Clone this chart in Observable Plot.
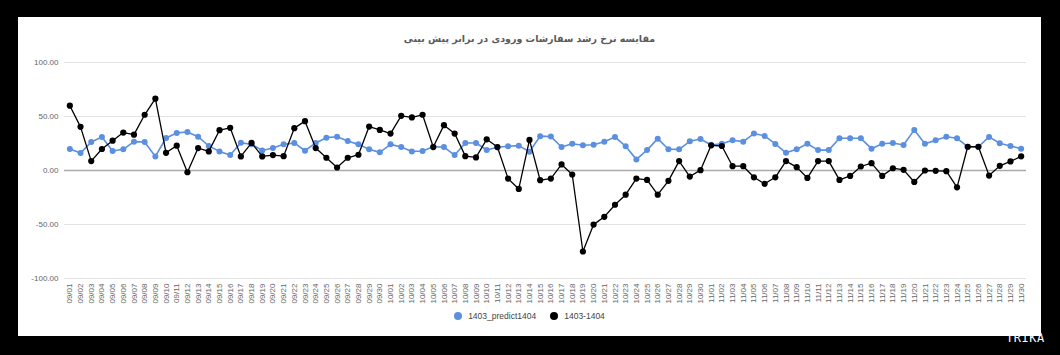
<!DOCTYPE html>
<html>
<head>
<meta charset="utf-8">
<script src="https://cdn.jsdelivr.net/npm/d3@7"></script>
<script src="https://cdn.jsdelivr.net/npm/@observablehq/plot@0.6"></script>
<style>
  html, body { margin: 0; padding: 0; background: #000; }
  #page { position: relative; width: 1060px; height: 355px; background: #000; overflow: hidden; }
  #panel { position: absolute; left: 18px; top: 17px; width: 1023px; height: 319px; background: #fff; }
  #title { position: absolute; left: 18px; width: 1023px; top: 33px; text-align: center;
           font-family: "DejaVu Sans", sans-serif; font-weight: bold; font-size: 9.5px; color: #5a5a5a; direction: rtl; }
  #chart { position: absolute; left: 18px; top: 50px; }
  #legend { position: absolute; left: 18px; width: 1023px; top: 311px; display: flex; justify-content: center; gap: 14px;
            font-family: "Liberation Sans", Arial, sans-serif; font-size: 8.5px; color: #444; }
  .item { display: flex; align-items: center; gap: 6px; }
  .sw { width: 8px; height: 8px; border-radius: 50%; display: inline-block; }
  #wm { position: absolute; left: 1006px; top: 331px; font-family: "DejaVu Sans Mono", monospace; font-size: 12px; color: #fff; letter-spacing: 0.5px; }
</style>
</head>
<body>
<div id="page">
  <div id="panel"></div>
  <div id="title">مقایسه نرخ رشد سفارشات ورودی در برابر پیش بینی</div>
  <div id="chart"></div>
  <div id="legend"></div>
  <div id="wm">TRIKA</div>
</div>
<script>
const dates = [
  "09/01","09/02","09/03","09/04","09/05","09/06","09/07","09/08","09/09","09/10",
  "09/11","09/12","09/13","09/14","09/15","09/16","09/17","09/18","09/19","09/20",
  "09/21","09/22","09/23","09/24","09/25","09/26","09/27","09/28","09/29","09/30",
  "10/01","10/02","10/03","10/04","10/05","10/06","10/07","10/08","10/09","10/10",
  "10/11","10/12","10/13","10/14","10/15","10/16","10/17","10/18","10/19","10/20",
  "10/21","10/22","10/23","10/24","10/25","10/26","10/27","10/28","10/29","10/30",
  "11/01","11/02","11/03","11/04","11/05","11/06","11/07","11/08","11/09","11/10",
  "11/11","11/12","11/13","11/14","11/15","11/16","11/17","11/18","11/19","11/20",
  "11/21","11/22","11/23","11/24","11/25","11/26","11/27","11/28","11/29","11/30"
];

const predict = [
  19.9, 16.1, 26.4, 31.1, 18.0, 19.6, 26.7, 26.4, 13.0, 30.1,
  34.8, 35.7, 31.3, 22.7, 17.7, 14.3, 25.7, 24.2, 18.6, 20.8,
  24.2, 25.5, 18.3, 25.5, 30.4, 31.3, 27.3, 24.2, 19.6, 16.8,
  24.2, 21.7, 17.7, 18.0, 21.9, 21.7, 14.3, 25.5, 25.5, 19.0,
  21.5, 22.4, 23.0, 17.4, 31.8, 31.4, 21.8, 24.8, 23.4, 23.9,
  26.7, 31.1, 22.4, 10.3, 18.9, 29.5, 19.7, 19.6, 27.0, 29.2,
  23.6, 24.8, 28.0, 26.7, 34.2, 32.0, 24.6, 16.4, 19.6, 24.8,
  18.9, 18.9, 29.8, 29.8, 29.8, 20.2, 24.8, 25.5, 23.6, 37.6,
  24.8, 27.9, 31.3, 29.8, 22.0, 22.0, 31.1, 25.2, 22.7, 20.2
];

const actual = [
  60.0, 40.4, 8.7, 19.9, 27.6, 35.1, 33.2, 51.6, 66.5, 16.4,
  23.0, -1.6, 20.8, 17.7, 37.3, 39.5, 13.0, 25.5, 13.0, 14.3,
  13.3, 39.2, 45.7, 20.8, 11.8, 2.8, 11.8, 14.6, 40.7, 37.6,
  34.2, 50.6, 49.1, 51.6, 21.7, 42.0, 34.2, 13.3, 12.1, 28.9,
  21.7, -7.5, -17.1, 28.3, -9.0, -7.5, 5.6, -3.7, -75.0, -50.1,
  -42.9, -31.7, -22.4, -7.5, -8.7, -22.4, -9.6, 8.7, -5.6, 0.3,
  23.3, 22.7, 4.0, 4.0, -6.3, -12.3, -6.3, 8.7, 3.1, -6.9,
  8.7, 8.7, -8.7, -5.0, 3.7, 6.8, -5.0, 2.1, 0.6, -10.6,
  0.0, -0.3, -0.6, -15.6, 22.0, 22.0, -4.7, 4.3, 8.4, 13.1
];

const yTicks = [-100, -50, 0, 50, 100];
const seriesNames = ["1403_predict1404", "1403-1404"];
const seriesColors = ["#5b8fe0", "#000000"];

const predRows = dates.map((d, i) => ({date: d, value: predict[i]}));
const actRows = dates.map((d, i) => ({date: d, value: actual[i]}));

const chart = Plot.plot({
  width: 1023,
  height: 262,
  marginTop: 12,
  marginLeft: 46,
  marginRight: 15,
  marginBottom: 34,
  style: {fontFamily: "'Liberation Sans', Arial, sans-serif", fontSize: "8px", color: "#555", background: "transparent"},
  x: {type: "point", domain: dates, padding: 0.5, label: null, tickRotate: -90, tickSize: 0, tickPadding: 5},
  y: {domain: [-100, 100], ticks: yTicks, tickFormat: d => d.toFixed(2), label: null, tickSize: 0, tickPadding: 6},
  marks: [
    Plot.ruleY(yTicks.filter(t => t !== 0), {stroke: "#e3e3e3", strokeWidth: 1}),
    Plot.ruleY([0], {stroke: "#aaaaaa", strokeWidth: 1.5}),
    Plot.line(predRows, {x: "date", y: "value", stroke: seriesColors[0], strokeWidth: 1.6}),
    Plot.dot(predRows, {x: "date", y: "value", fill: seriesColors[0], r: 3}),
    Plot.line(actRows, {x: "date", y: "value", stroke: seriesColors[1], strokeWidth: 1.3}),
    Plot.dot(actRows, {x: "date", y: "value", fill: seriesColors[1], r: 3.1})
  ]
});
chart.querySelectorAll("[aria-label='x-axis tick label'] text, [aria-label='y-axis tick label'] text").forEach(t => t.setAttribute("fill", "#666"));
document.getElementById("chart").appendChild(chart);

const legend = document.getElementById("legend");
seriesNames.forEach((name, i) => {
  const item = document.createElement("div");
  item.className = "item";
  const sw = document.createElement("span");
  sw.className = "sw";
  sw.style.background = seriesColors[i];
  const lb = document.createElement("span");
  lb.textContent = name;
  item.appendChild(sw);
  item.appendChild(lb);
  legend.appendChild(item);
});
</script>
</body>
</html>
